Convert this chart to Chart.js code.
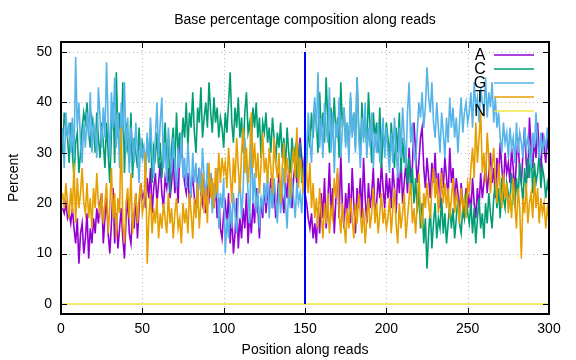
<!DOCTYPE html>
<html>
<head>
<meta charset="utf-8">
<script src="https://cdn.jsdelivr.net/npm/chart.js@4.4.1/dist/chart.umd.min.js"></script>
<style>
html,body{margin:0;padding:0;background:#fff;}
#wrap{width:576px;height:360px;}
</style>
</head>
<body>
<div id="wrap"><canvas id="c" width="576" height="360"></canvas></div>
<script>
const TITLE = "Base percentage composition along reads";
const X_LABEL = "Position along reads";
const Y_LABEL = "Percent";
const SERIES_NAMES = ["A", "C", "G", "T", "N"];
const X_TICKS = [0, 50, 100, 150, 200, 250, 300];
const Y_TICKS = [0, 10, 20, 30, 40, 50];
const MARKER_POS = 150;
const MARKER_RANGE = [0, 50];

const A_VALUES = [
19,18,20,17,18,16,19,15,12,17,8,14,16,10,13,18,9,15,12,17,14,19,16,20,22,
12,17,21,14,10,16,23,12,18,11,15,19,13,9,17,21,14,12,18,15,22,13,19,24,21,
22,19,25,21,27,18,23,26,20,24,28,22,19,25,23,27,21,24,29,22,26,20,31,33,27,
24,22,26,20,23,25,21,19,24,27,22,20,25,18,23,21,26,22,19,24,17,21,15,13,18,
20,16,22,12,18,10,14,21,11,17,13,19,15,22,12,18,14,20,16,23,19,13,21,17,24,
18,22,20,25,19,23,17,21,26,20,22,18,24,21,27,23,19,25,28,24,30,33,29,26,22,
20,17,15,18,13,16,12,19,14,22,17,25,15,20,28,18,23,14,21,26,17,30,19,15,22,
18,24,16,27,20,14,23,19,25,17,29,21,16,24,19,22,27,18,20,25,21,28,23,19,26,
21,25,19,27,23,18,26,22,29,20,24,28,22,31,25,27,36,30,24,28,33,35,27,23,29,
25,21,28,24,30,22,26,19,27,23,29,25,21,31,24,27,20,25,22,18,24,20,17,23,19,
22,18,25,20,17,23,19,26,21,24,28,22,26,30,24,27,21,29,25,32,27,23,30,26,28,
24,31,27,22,29,33,26,24,30,35,28,25,37,31,27,33,29,36,30,26,34,31,28,33,30
];
const C_VALUES = [
30,38,35,33,28,36,30,25,32,34,26,30,35,38,36,40,34,31,37,35,30,38,33,29,36,
32,27,36,30,24,34,40,28,46,33,38,30,44,26,36,31,28,38,25,33,30,27,35,29,32,
30,26,33,28,35,24,31,29,34,27,32,25,30,36,28,33,22,31,35,27,38,30,34,29,37,
33,40,31,38,35,42,34,30,39,36,43,33,37,40,35,44,38,34,41,36,39,33,37,35,31,
38,34,40,46,36,32,39,35,41,33,37,30,38,42,34,36,31,39,35,40,33,37,29,36,34,
38,32,35,30,37,33,28,34,31,36,29,33,27,35,30,26,33,29,31,25,28,32,24,27,30,
28,35,31,38,33,40,36,30,42,34,38,32,45,36,30,39,34,41,33,37,29,44,35,39,32,
36,30,41,34,38,31,45,35,29,40,33,37,31,42,35,28,38,33,36,30,39,27,34,31,36,
33,29,36,31,27,35,30,38,26,33,28,31,24,29,22,27,20,25,18,23,15,20,12,17,7,
14,19,11,16,20,13,17,15,21,14,18,12,16,20,15,19,13,17,21,16,14,19,17,22,18,
16,20,14,19,12,17,21,15,18,13,20,16,22,18,15,21,24,19,23,17,25,21,19,24,22,
20,26,23,19,25,21,28,24,20,27,23,29,25,31,22,28,24,26,30,23,27,25,21,24,22
];
const G_VALUES = [
35,27,38,33,36,30,37,29,49,35,40,32,28,36,31,38,33,42,30,36,34,29,43,37,31,
39,33,48,36,29,42,35,45,31,38,27,40,34,44,30,37,26,35,32,28,36,30,24,33,29,
31,26,34,28,37,30,25,33,40,29,36,41,27,32,24,35,30,26,33,28,23,31,27,34,25,
29,23,32,26,21,30,24,28,19,27,22,31,25,20,28,23,26,18,24,21,27,15,22,19,25,
10,17,13,20,15,22,18,14,21,25,17,23,33,28,22,16,35,20,26,18,23,15,21,19,24,
20,26,17,23,19,25,21,16,24,18,22,27,20,15,23,19,25,21,17,24,20,22,18,25,21,
30,38,33,28,36,41,34,46,31,37,29,40,35,32,43,30,38,26,36,33,41,29,35,39,31,
36,28,42,33,38,30,45,34,27,37,32,40,29,35,31,38,27,34,30,36,28,33,37,29,35,
30,26,34,28,37,31,25,35,29,39,33,27,38,44,32,36,30,28,34,40,37,42,35,39,47,
41,38,44,36,33,40,35,30,38,34,29,37,32,41,35,39,33,37,30,36,41,34,38,40,36,
38,42,35,44,39,41,36,43,40,38,45,37,42,39,44,36,41,35,38,33,30,36,32,34,29,
35,31,33,28,36,30,34,32,29,35,31,33,30,27,34,31,38,32,29,34,30,33,31,35,32
];
const T_VALUES = [
22,19,24,20,17,23,18,28,16,25,19,22,27,20,18,24,17,21,15,23,19,26,20,18,22,
16,20,24,14,19,27,17,22,13,21,18,35,16,12,20,23,17,26,14,19,22,16,21,24,18,
20,30,8,17,22,14,19,16,21,13,18,15,20,17,14,22,16,19,13,18,21,15,17,12,20,
16,19,14,22,18,13,21,17,24,15,20,26,18,23,16,28,21,25,19,27,22,30,24,29,26,
28,23,31,26,20,29,24,33,27,22,30,35,26,31,24,29,38,27,32,25,30,22,28,34,26,
29,24,31,27,22,33,28,25,30,20,27,32,24,29,26,21,28,31,25,35,23,29,26,22,30,
26,22,28,19,24,17,21,15,23,18,13,20,16,22,14,19,17,25,21,27,18,14,20,16,12,
19,15,21,17,13,20,16,22,18,14,19,12,17,21,15,18,23,16,20,14,18,22,16,19,15,
17,21,14,19,23,16,12,20,15,18,22,13,17,21,24,16,19,14,20,26,18,15,22,19,24,
20,17,23,27,21,25,18,22,26,20,24,19,23,17,21,25,18,22,20,16,23,19,21,17,24,
22,27,31,25,36,28,33,38,26,30,24,34,29,22,27,31,25,20,28,23,19,26,21,24,18,
22,17,25,20,15,23,19,9,21,18,24,16,20,22,17,25,19,23,16,21,18,20,15,19,17
];
const N_VALUES = new Array(300).fill(0);

const COLORS = ["#9400d3", "#009e73", "#56b4e9", "#e69f00", "#f0e442"];
const MARKER_COLOR = "#0000ff";

function toPoints(vals){ return vals.map((v,i)=>({x:i+1, y:v})); }
const ALL = [A_VALUES, C_VALUES, G_VALUES, T_VALUES, N_VALUES];

const datasets = ALL.map((vals, k) => ({
  label: SERIES_NAMES[k],
  data: toPoints(vals),
  borderColor: COLORS[k],
  backgroundColor: COLORS[k],
  borderWidth: 1.6,
  pointRadius: 0,
  tension: 0,
  order: 10 - k
}));
datasets.push({
  label: "marker",
  data: [{x:MARKER_POS, y:MARKER_RANGE[0]}, {x:MARKER_POS, y:MARKER_RANGE[1]}],
  borderColor: MARKER_COLOR,
  borderWidth: 2,
  pointRadius: 0,
  order: 0
});

const FONT = "'Liberation Sans', Arial, sans-serif";

const decor = {
  id: 'decor',
  beforeDatasetsDraw(chart){
    const ctx = chart.ctx, a = chart.chartArea;
    const xs = chart.scales.x, ys = chart.scales.y;
    ctx.save();
    ctx.strokeStyle = '#b8b8b8';
    ctx.lineWidth = 1;
    ctx.setLineDash([1,3]);
    X_TICKS.forEach(t => {
      if (t === 0 || t === 300) return;
      const px = Math.round(xs.getPixelForValue(t)) + 0.5;
      ctx.beginPath(); ctx.moveTo(px, a.top); ctx.lineTo(px, a.bottom); ctx.stroke();
    });
    Y_TICKS.forEach(t => {
      const py = Math.round(ys.getPixelForValue(t)) + 0.5;
      ctx.beginPath(); ctx.moveTo(a.left, py); ctx.lineTo(a.right, py); ctx.stroke();
    });
    ctx.restore();
  },
  afterDatasetsDraw(chart){
    const ctx = chart.ctx, a = chart.chartArea;
    const xs = chart.scales.x, ys = chart.scales.y;
    ctx.save();
    ctx.strokeStyle = '#000';
    ctx.lineWidth = 1;
    const TL = 6;
    X_TICKS.forEach(t => {
      const px = Math.round(xs.getPixelForValue(t)) + 0.5;
      ctx.beginPath();
      ctx.moveTo(px, a.bottom); ctx.lineTo(px, a.bottom - TL);
      ctx.moveTo(px, a.top); ctx.lineTo(px, a.top + TL);
      ctx.stroke();
    });
    Y_TICKS.forEach(t => {
      const py = Math.round(ys.getPixelForValue(t)) + 0.5;
      ctx.beginPath();
      ctx.moveTo(a.left, py); ctx.lineTo(a.left + TL, py);
      ctx.moveTo(a.right, py); ctx.lineTo(a.right - TL, py);
      ctx.stroke();
    });
    ctx.lineWidth = 2;
    ctx.strokeRect(a.left, a.top, a.right - a.left, a.bottom - a.top);

    // legend (gnuplot style: label then line sample)
    ctx.font = '16px ' + FONT;
    ctx.fillStyle = '#000';
    ctx.textAlign = 'center';
    ctx.textBaseline = 'middle';
    SERIES_NAMES.forEach((n, k) => {
      const y = 55 + k * 14;
      ctx.fillText(n, 480, y + 1);
      ctx.strokeStyle = COLORS[k];
      ctx.lineWidth = 1.6;
      ctx.beginPath(); ctx.moveTo(494, y); ctx.lineTo(534, y); ctx.stroke();
    });

    // titles
    ctx.fillStyle = '#000';
    ctx.font = '14px ' + FONT;
    ctx.textAlign = 'center';
    ctx.textBaseline = 'middle';
    const cx = (a.left + a.right) / 2;
    ctx.fillText(TITLE, cx, 20);
    ctx.fillText(X_LABEL, cx, 350);
    ctx.translate(14, (a.top + a.bottom) / 2);
    ctx.rotate(-Math.PI / 2);
    ctx.fillText(Y_LABEL, 0, 0);
    ctx.restore();
  }
};

new Chart(document.getElementById('c'), {
  type: 'line',
  data: { datasets },
  options: {
    responsive: false,
    animation: false,
    events: [],
    layout: { padding: { left: 0, right: 27, top: 42, bottom: 0 } },
    plugins: { legend: { display: false }, title: { display: false }, tooltip: { enabled: false } },
    scales: {
      x: {
        type: 'linear', min: 0, max: 300,
        afterBuildTicks(s){ s.ticks = X_TICKS.map(v => ({value: v})); },
        afterFit(s){ s.height = 46; },
        grid: { display: false, drawTicks: false },
        border: { display: false },
        ticks: { color: '#000', font: { family: FONT, size: 14 }, padding: 7, maxRotation: 0, autoSkip: false }
      },
      y: {
        type: 'linear', min: -2, max: 52,
        afterBuildTicks(s){ s.ticks = Y_TICKS.map(v => ({value: v})); },
        afterFit(s){ s.width = 61; },
        grid: { display: false, drawTicks: false },
        border: { display: false },
        ticks: { color: '#000', font: { family: FONT, size: 14 }, padding: 9 }
      }
    }
  },
  plugins: [decor]
});
</script>
</body>
</html>
